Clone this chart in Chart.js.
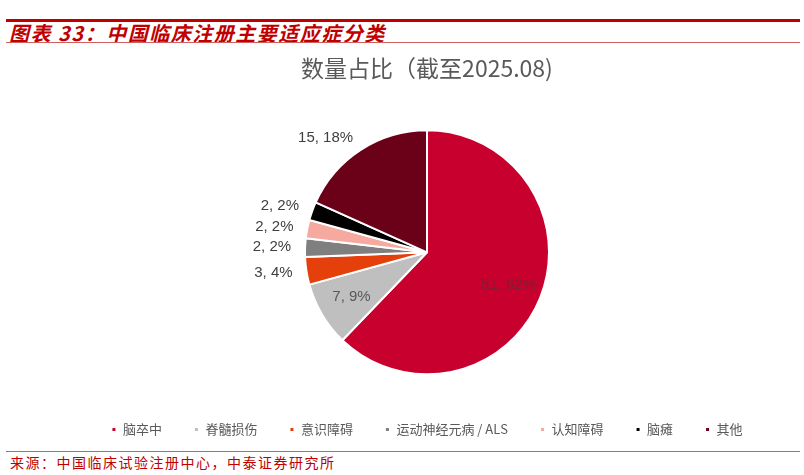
<!DOCTYPE html>
<html>
<head>
<meta charset="utf-8">
<script src="https://cdn.jsdelivr.net/npm/chart.js@4.4.1/dist/chart.umd.min.js"></script>
<style>
  body { margin: 0; background: #fff; width: 804px; height: 475px; overflow: hidden; position: relative; font-family: "Noto Sans CJK SC", sans-serif; }
  .topline { position: absolute; left: 6px; right: 4px; top: 19px; height: 3px; background: #c00000; }
  .title { position: absolute; left: 9px; top: 18px; font-size: 20px; font-weight: bold; font-style: italic; color: #c00000; letter-spacing: 1.5px; }
  .subline { position: absolute; left: 6px; right: 4px; top: 42px; height: 1px; background: #d06060; }
  .srcline { position: absolute; left: 6px; right: 4px; top: 451px; height: 1px; background: #d06060; }
  .source { position: absolute; left: 10px; top: 452px; font-size: 14px; color: #c00000; letter-spacing: 1.5px; }
  #wrap { position: absolute; left: 0; top: 44px; width: 804px; height: 402px; }
</style>
</head>
<body>
<div class="topline"></div>
<div class="title">图表 33：中国临床注册主要适应症分类</div>
<div class="subline"></div>
<div id="wrap"><canvas id="pie"></canvas></div>
<div class="srcline"></div>
<div class="source">来源：中国临床试验注册中心，中泰证券研究所</div>
<script>
// data
const categories = ['脑卒中', '脊髓损伤', '意识障碍', '运动神经元病 / ALS', '认知障碍', '脑瘫', '其他'];
const counts = [51, 7, 3, 2, 2, 2, 15];
const sliceColors = ['#c8002d', '#bfbfbf', '#e5400c', '#7f7f7f', '#f6a99f', '#000000', '#6b0019'];
const labelModes = ['in', 'in', 'out', 'out', 'out', 'out', 'out'];
const labelColors = ['#7a2034', '#595959', '#404040', '#404040', '#404040', '#404040', '#404040'];

// label plugin: "count, pct%" per slice
const sliceLabels = {
  id: 'sliceLabels',
  afterDatasetsDraw(chart) {
    const ctx = chart.ctx;
    const meta = chart.getDatasetMeta(0);
    const total = counts.reduce((a, b) => a + b, 0);
    ctx.save();
    ctx.font = '15px "Liberation Sans", Arial, sans-serif';
    ctx.textBaseline = 'middle';
    meta.data.forEach((arc, i) => {
      const p = arc.getProps(['x', 'y', 'startAngle', 'endAngle', 'outerRadius'], true);
      const mid = (p.startAngle + p.endAngle) / 2;
      const pct = Math.round(counts[i] / total * 100);
      const txt = counts[i] + ', ' + pct + '%';
      ctx.fillStyle = labelColors[i];
      if (labelModes[i] === 'in') {
        const r = p.outerRadius * 0.72;
        ctx.textAlign = 'center';
        ctx.fillText(txt, p.x + Math.cos(mid) * r, p.y + Math.sin(mid) * r);
      } else {
        const r = p.outerRadius + 14;
        const x = p.x + Math.cos(mid) * r;
        const y = p.y + Math.sin(mid) * r;
        ctx.textAlign = x < p.x ? 'right' : 'left';
        ctx.fillText(txt, x, y);
      }
    });
    ctx.restore();
  }
};

const ctx = document.getElementById('pie').getContext('2d');
new Chart(ctx, {
  type: 'pie',
  data: {
    labels: categories,
    datasets: [{
      data: counts,
      backgroundColor: sliceColors,
      borderColor: '#ffffff',
      borderWidth: 2,
      radius: 122
    }]
  },
  options: {
    responsive: true,
    maintainAspectRatio: false,
    animation: false,
    layout: { padding: { top: 0, bottom: 0, left: 50, right: 0 } },
    plugins: {
      title: {
        display: true,
        text: '数量占比（截至2025.08)',
        color: '#595959',
        font: { size: 23, family: '"Noto Sans CJK SC", sans-serif', weight: 'normal' },
        padding: { top: 10, bottom: 32 }
      },
      legend: {
        position: 'bottom',
        labels: {
          usePointStyle: true,
          pointStyle: 'rect',
          boxWidth: 5,
          boxHeight: 5,
          padding: 32,
          color: '#595959',
          font: { size: 13, family: '"Noto Sans CJK SC", sans-serif' }
        }
      },
      tooltip: { enabled: false }
    }
  },
  plugins: [sliceLabels]
});
</script>
</body>
</html>
